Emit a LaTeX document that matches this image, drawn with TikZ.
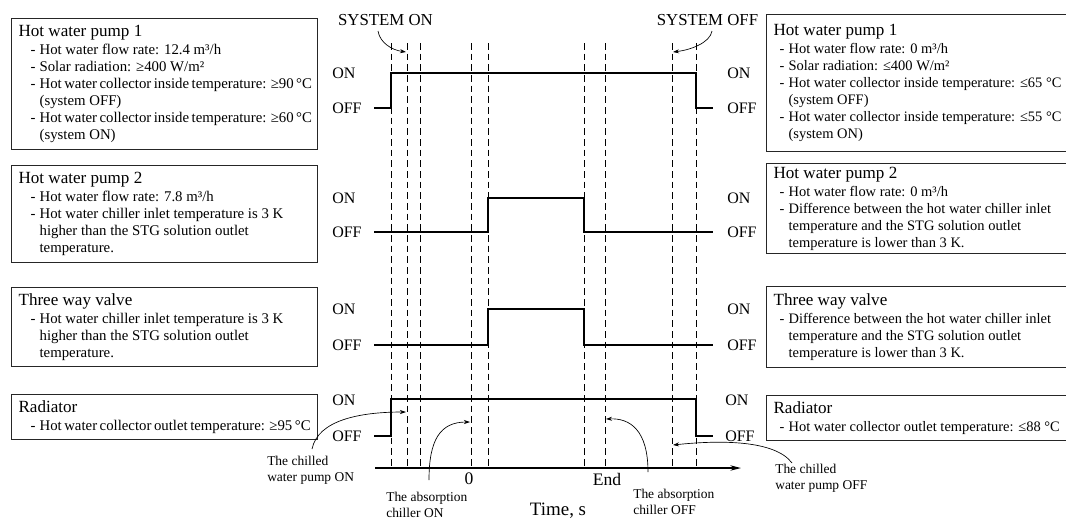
\documentclass[tikz,border=0pt]{standalone}
\usepackage{fontspec}
\setmainfont{Liberation Serif}
\usetikzlibrary{arrows.meta}
\newcommand\itemf{\fontsize{11.1}{12.75}\selectfont}
\newcommand\ritemf{\fontsize{10.85}{12.75}\selectfont}
\newcommand\titlef{\fontsize{12.8}{15}\selectfont}
\newcommand\lvlf{\fontsize{12}{14}\selectfont}
\newcommand\annf{\fontsize{10.1}{12}\selectfont}
\newcommand\sysf{\fontsize{12.6}{14}\selectfont}
\newlength\dashind
\newlength\txtind
\newcommand\bt[1]{\hbox to\hsize{\titlef #1\hfil}\vskip0.75pt}
\newcommand\bi[1]{\hbox to\hsize{\hskip\dashind\makebox[\dimexpr\txtind-\dashind\relax][l]{-}#1\hfil}}
\newcommand\bc[1]{\hbox to\hsize{\hskip\txtind #1\hfil}}
\newcommand\lcontent[1]{\vbox{\hsize=219pt\dashind=9pt\txtind=15.75pt\baselineskip=12.75pt #1}}
\newcommand\rcontent[1]{\vbox{\ritemf\hsize=229.5pt\dashind=4.5pt\txtind=11.25pt\baselineskip=12.75pt #1}}
\begin{document}
\begin{tikzpicture}[x=0.75pt,y=-0.75pt,
  sig/.style={line width=1pt},
  dline/.style={line width=0.7pt, dash pattern=on 5pt off 3pt},
  lbx/.style={draw=black!85, line width=0.9pt, anchor=north west, inner xsep=5.25pt, inner ysep=0pt, minimum width=229.5pt, font=\itemf},
  rbx/.style={lbx, minimum width=240pt},
  lvl/.style={font=\lvlf, anchor=west, inner sep=0pt},
  ann/.style={font=\annf, align=left, anchor=west, inner sep=0pt},
  callout/.style={line width=0.5pt, -{Stealth[length=4.5pt,width=3pt]}},
  axis/.style={line width=1pt, -{Stealth[length=8pt,width=4pt]}}]
\clip (0,0) rectangle (1066,519);

% ---------- left boxes ----------
\node[lbx, minimum height=98.25pt] (L1) at (11,18) {\lcontent{%
  \bt{Hot water pump 1}
  \bi{Hot water flow rate: 12.4 m³/h}
  \bi{Solar radiation: ≥400 W/m²}
  \bi{Hot water collector inside temperature: ≥90 °C}
  \bc{(system OFF)}
  \bi{Hot water collector inside temperature: ≥60 °C}
  \bc{(system ON)}}};
\node[lbx, minimum height=72.75pt] (L2) at (11,165) {\lcontent{%
  \bt{Hot water pump 2}
  \bi{Hot water flow rate: 7.8 m³/h}
  \bi{Hot water chiller inlet temperature is 3 K}
  \bc{higher than the STG solution outlet}
  \bc{temperature.}}};
\node[lbx, minimum height=59.25pt] (L3) at (11,287) {\lcontent{%
  \bt{Three way valve}
  \bi{Hot water chiller inlet temperature is 3 K}
  \bc{higher than the STG solution outlet}
  \bc{temperature.}}};
\node[lbx, minimum height=33.75pt] (L4) at (11,394) {\lcontent{%
  \bt{Radiator}
  \bi{Hot water collector outlet temperature: ≥95 °C}}};

% ---------- right boxes ----------
\node[rbx, minimum height=102.75pt] (R1) at (766,14) {\rcontent{%
  \bt{Hot water pump 1}
  \bi{Hot water flow rate: 0 m³/h}
  \bi{Solar radiation: ≤400 W/m²}
  \bi{Hot water collector inside temperature: ≤65 °C}
  \bc{(system OFF)}
  \bi{Hot water collector inside temperature: ≤55 °C}
  \bc{(system ON)}}};
\node[rbx, minimum height=67.5pt] (R2) at (766,163) {\rcontent{%
  \bt{Hot water pump 2}
  \bi{Hot water flow rate: 0 m³/h}
  \bi{Difference between the hot water chiller inlet}
  \bc{temperature and the STG solution outlet}
  \bc{temperature is lower than 3 K.}}};
\node[rbx, minimum height=60.75pt] (R3) at (766,286) {\rcontent{%
  \bt{Three way valve}
  \bi{Difference between the hot water chiller inlet}
  \bc{temperature and the STG solution outlet}
  \bc{temperature is lower than 3 K.}}};
\node[rbx, minimum height=33.75pt] (R4) at (766,395) {\rcontent{%
  \bt{Radiator}
  \bi{Hot water collector outlet temperature: ≤88 °C}}};

% ---------- dashed time markers and axis ----------
\foreach \x [count=\i] in {391,407,420,471,488,584,605,672,696} {
  \coordinate (dt\i) at (\x,43);
  \coordinate (db\i) at (\x,468);
  \draw[dline] (dt\i) -- (db\i);
}
\coordinate (ax0) at (375,468);
\coordinate (ax1) at (741,468);
\draw[axis] (ax0) -- (ax1);

% ---------- signals ----------
\draw[sig] (374,108) -- (391,108) -- (391,73) -- (696,73) -- (696,108) -- (713,108);
\draw[sig] (374,232) -- (488,232) -- (488,198) -- (584,198) -- (584,232) -- (713,232);
\draw[sig] (374,345) -- (488,345) -- (488,309) -- (584,309) -- (584,345) -- (713,345);
\draw[sig] (374,436) -- (391,436) -- (391,399) -- (696,399) -- (696,436) -- (713,436);

% ---------- ON/OFF labels ----------
\node[lvl] (on1l) at (332,73) {ON};   \node[lvl] (off1l) at (332,108) {OFF};
\node[lvl] (on1r) at (727,73) {ON};   \node[lvl] (off1r) at (727,108) {OFF};
\node[lvl] (on2l) at (332,198) {ON};  \node[lvl] (off2l) at (332,232) {OFF};
\node[lvl] (on2r) at (727,198) {ON};  \node[lvl] (off2r) at (727,232) {OFF};
\node[lvl] (on3l) at (332,309) {ON};  \node[lvl] (off3l) at (332,345) {OFF};
\node[lvl] (on3r) at (727,309) {ON};  \node[lvl] (off3r) at (727,345) {OFF};
\node[lvl] (on4l) at (332,400) {ON};  \node[lvl] (off4l) at (332,436) {OFF};
\node[lvl] (on4r) at (725,400) {ON};  \node[lvl] (off4r) at (725,436) {OFF};

% ---------- system labels ----------
\node[font=\sysf, inner sep=0pt] (son) at (385.5,20) {SYSTEM ON};
\node[font=\sysf, inner sep=0pt] (soff) at (707.5,20) {SYSTEM OFF};
\coordinate (sonT) at (406,52);
\coordinate (soffT) at (673,52);
\draw[callout] (378,31) .. controls (380,43) and (392,50) .. (sonT);
\draw[callout] (712,31) .. controls (710,43) and (690,50) .. (soffT);

% ---------- axis labels ----------
\node[font=\fontsize{13.2}{15}\selectfont, inner sep=0pt] (zero) at (469,479) {0};
\node[font=\fontsize{13.2}{15}\selectfont, inner sep=0pt] (end) at (607,479) {End};
\node[font=\fontsize{14.2}{16}\selectfont, inner sep=0pt] (time) at (558,511) {Time, s};

% ---------- annotations ----------
\node[ann] (cwon) at (267,470) {The chilled\\water pump ON};
\node[ann] (abon) at (386,504.5) {The absorption\\chiller ON};
\node[ann] (aboff) at (633,501.5) {The absorption\\chiller OFF};
\node[ann] (cwoff) at (775,478) {The chilled\\water pump OFF};
\coordinate (cwonT) at (406,412);
\coordinate (abonT) at (470,422);
\coordinate (aboffT) at (606,419);
\coordinate (cwoffT) at (673,445);
\draw[callout] (312,449) .. controls (318,420) and (360,412) .. (cwonT);
\draw[callout] (429,480) .. controls (429,440) and (440,422) .. (abonT);
\draw[callout] (648,472) .. controls (648,430) and (630,418) .. (aboffT);
\draw[callout] (792,463) .. controls (775,440) and (720,440) .. (cwoffT);
\end{tikzpicture}
\end{document}
